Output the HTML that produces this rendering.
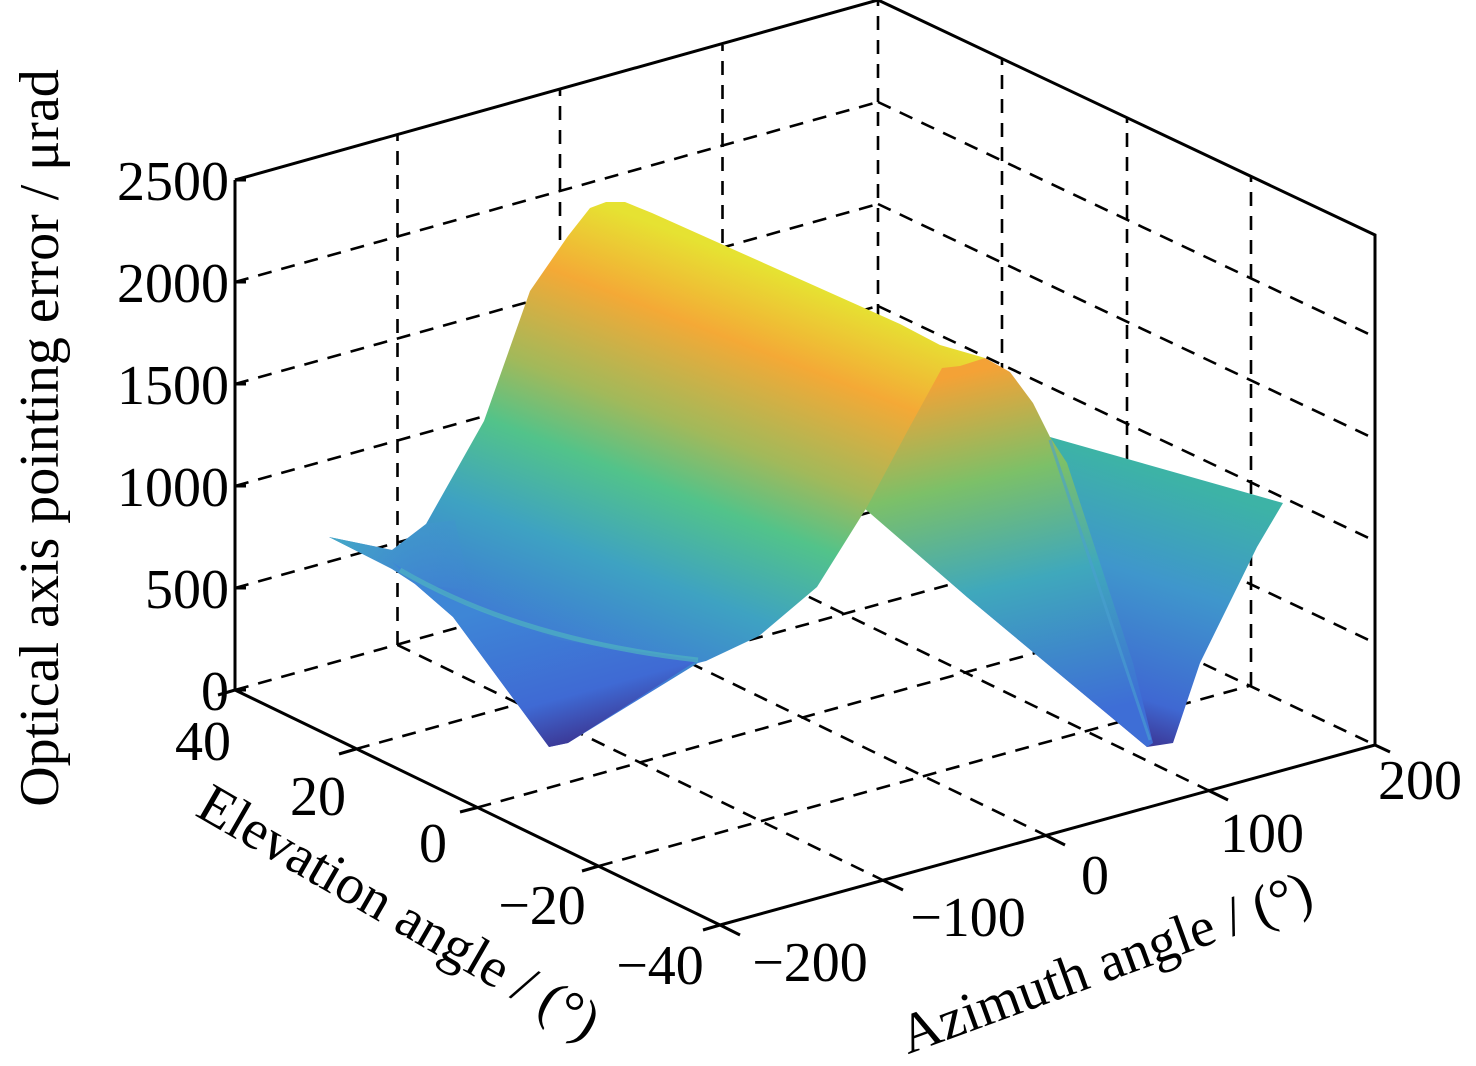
<!DOCTYPE html>
<html><head><meta charset="utf-8"><style>html,body{margin:0;padding:0;background:#fff}svg{display:block}</style></head>
<body>
<svg width="1476" height="1066" viewBox="0 0 1476 1066" xmlns="http://www.w3.org/2000/svg" font-family="'Liberation Serif', serif">
<defs>
<linearGradient id="gMain" gradientUnits="userSpaceOnUse" x1="720" y1="250" x2="560" y2="660">
<stop offset="0" stop-color="#e6e232"/>
<stop offset="0.18" stop-color="#f4a936"/>
<stop offset="0.4" stop-color="#a2b95a"/>
<stop offset="0.55" stop-color="#52c38a"/>
<stop offset="0.75" stop-color="#3ea2c2"/>
<stop offset="1" stop-color="#3f76d6"/>
</linearGradient>
<linearGradient id="gBack" gradientUnits="userSpaceOnUse" x1="980" y1="370" x2="1060" y2="720">
<stop offset="0" stop-color="#f4a236"/>
<stop offset="0.3" stop-color="#7cc068"/>
<stop offset="0.6" stop-color="#3fa8bc"/>
<stop offset="1" stop-color="#3e6ed6"/>
</linearGradient>
<linearGradient id="gRight" gradientUnits="userSpaceOnUse" x1="1240" y1="500" x2="1160" y2="745">
<stop offset="0" stop-color="#3db3a6"/>
<stop offset="0.4" stop-color="#3f96cc"/>
<stop offset="0.85" stop-color="#3f68d2"/>
<stop offset="1" stop-color="#3c3c9c"/>
</linearGradient>
<linearGradient id="gV" gradientUnits="userSpaceOnUse" x1="520" y1="600" x2="560" y2="745">
<stop offset="0" stop-color="#3e86d6"/>
<stop offset="0.7" stop-color="#3f6ad4"/>
<stop offset="1" stop-color="#3c3a98"/>
</linearGradient>
<linearGradient id="gWing" gradientUnits="userSpaceOnUse" x1="330" y1="540" x2="480" y2="600">
<stop offset="0" stop-color="#44aac6"/>
<stop offset="1" stop-color="#3f84d4" stop-opacity="0"/>
</linearGradient>
</defs>

<g stroke="#000" stroke-width="2.6" fill="none" stroke-dasharray="14 10">
<line x1="235" y1="690" x2="878" y2="510"/>
<line x1="235" y1="588" x2="878" y2="408"/>
<line x1="235" y1="486" x2="878" y2="306"/>
<line x1="235" y1="384" x2="878" y2="204"/>
<line x1="235" y1="282" x2="878" y2="102"/>
<line x1="397.5" y1="645" x2="397.5" y2="135"/>
<line x1="560" y1="600" x2="560" y2="90"/>
<line x1="722.5" y1="555" x2="722.5" y2="45"/>
<line x1="878" y1="510" x2="878" y2="0"/>
<line x1="878" y1="510" x2="1375" y2="745"/>
<line x1="878" y1="408" x2="1375" y2="643"/>
<line x1="878" y1="306" x2="1375" y2="541"/>
<line x1="878" y1="204" x2="1375" y2="439"/>
<line x1="878" y1="102" x2="1375" y2="337"/>
<line x1="1002" y1="569" x2="1002" y2="59"/>
<line x1="1127" y1="627" x2="1127" y2="117"/>
<line x1="1251" y1="686" x2="1251" y2="176"/>
<line x1="356" y1="749" x2="1006" y2="569"/>
<line x1="477.5" y1="807.5" x2="1127.5" y2="627.5"/>
<line x1="599" y1="866" x2="1249" y2="686"/>
<line x1="397.5" y1="645" x2="882.5" y2="880"/>
<line x1="560" y1="600" x2="1045" y2="835"/>
<line x1="722.5" y1="555" x2="1207.5" y2="790"/>
</g>

<polygon fill="url(#gRight)" points="867,510 1050,437 1283,503 1257,547 1200,663 1173,743 1147,747 967,597"/>
<polygon fill="url(#gBack)" points="864,508 940,365 985,358 1010,372 1033,403 1050,437 1067,463 1100,563 1133,663 1153,743 1147,747 967,597"/>
<polygon fill="url(#gMain)" points="329,537 392,550 426,524 484,421 530,291 568,236 590,208 606,202 625,202 652,213 900,324 940,345 985,358 960,366 942,368 908,430 867,507 817,587 759,636 706,661 698,663 568,743 549,747 453,617 415,584 392,569"/>
<polygon fill="url(#gWing)" points="329,537 392,550 426,524 455,520 470,590 415,584 392,569"/>
<polygon fill="url(#gV)" points="392,562 453,600 560,640 698,660 568,743 549,747 453,617 415,584"/>
<path d="M400,570 Q520,640 698,660" stroke="#4fb4c0" stroke-width="5" fill="none" opacity="0.7"/>
<path d="M1050,440 L1150,740" stroke="#4aa0d0" stroke-width="3" fill="none" opacity="0.6"/>

<g stroke="#000" stroke-width="3" fill="none">
<line x1="235" y1="180" x2="235" y2="690"/>
<polyline points="235,180 878,0 1375,235 1375,745"/>
<line x1="235" y1="690" x2="720" y2="925"/>
<line x1="720" y1="925" x2="1375" y2="745"/>
<line x1="235" y1="180" x2="246" y2="180"/>
<line x1="235" y1="282" x2="246" y2="282"/>
<line x1="235" y1="384" x2="246" y2="384"/>
<line x1="235" y1="486" x2="246" y2="486"/>
<line x1="235" y1="588" x2="246" y2="588"/>
<line x1="235" y1="690" x2="246" y2="690"/>
<line x1="235" y1="690" x2="218" y2="695"/>
<line x1="356" y1="749" x2="339" y2="754"/>
<line x1="477.5" y1="807.5" x2="460" y2="812"/>
<line x1="599" y1="866" x2="582" y2="871"/>
<line x1="720" y1="925" x2="703" y2="930"/>
<line x1="720" y1="925" x2="740" y2="935"/>
<line x1="882.5" y1="880" x2="903" y2="890"/>
<line x1="1045" y1="835" x2="1065" y2="845"/>
<line x1="1207.5" y1="790" x2="1228" y2="800"/>
<line x1="1375" y1="745" x2="1390" y2="752"/>
</g>

<g font-size="56" fill="#000">
<g text-anchor="end">
<text x="229" y="200">2500</text>
<text x="229" y="302">2000</text>
<text x="229" y="404">1500</text>
<text x="229" y="506">1000</text>
<text x="229" y="608">500</text>
<text x="229" y="710">0</text>
</g>
<g text-anchor="middle">
<text x="203" y="760">40</text>
<text x="318" y="815">20</text>
<text x="433" y="862">0</text>
<text x="542" y="924">−20</text>
<text x="660" y="984">−40</text>
<text x="810" y="981">−200</text>
<text x="968" y="936">−100</text>
<text x="1095" y="894">0</text>
<text x="1262" y="852">100</text>
<text x="1420" y="799">200</text>
</g>
<text transform="translate(58,438) rotate(-90)" text-anchor="middle">Optical axis pointing error / μrad</text>
<text transform="translate(390,928) rotate(30)" text-anchor="middle">Elevation angle / (°)</text>
<text transform="translate(1112,980) rotate(-20)" text-anchor="middle">Azimuth angle / (°)</text>
</g>
</svg>
</body></html>
